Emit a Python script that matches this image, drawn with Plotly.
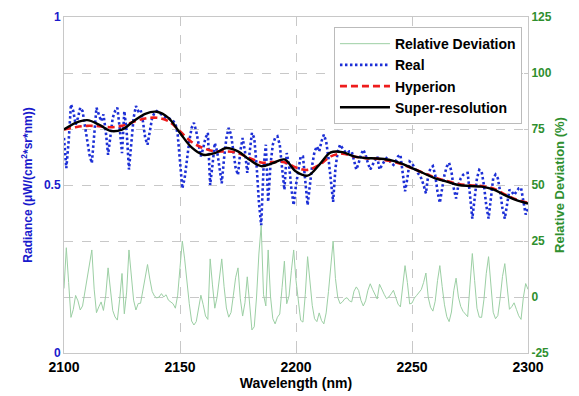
import plotly.graph_objects as go

# Wavelength grid (nm) for measured / deviation series
wl = list(range(2100, 2301))

real = [0.64, 0.55, 0.63, 0.74, 0.72, 0.68, 0.70, 0.73, 0.72, 0.68,
        0.63, 0.59, 0.565, 0.66, 0.73, 0.71, 0.69, 0.71, 0.66, 0.59,
        0.64, 0.70, 0.72, 0.73, 0.67, 0.595, 0.72, 0.66, 0.546, 0.62,
        0.70, 0.735, 0.72, 0.725, 0.69, 0.64, 0.62, 0.66, 0.70, 0.715,
        0.72, 0.715, 0.71, 0.705, 0.70, 0.70, 0.695, 0.69, 0.685, 0.65,
        0.56, 0.49, 0.52, 0.58, 0.63, 0.67, 0.685, 0.66, 0.62, 0.585,
        0.61, 0.64, 0.655, 0.50, 0.56, 0.625, 0.60, 0.55, 0.505, 0.58,
        0.64, 0.67, 0.65, 0.60, 0.55, 0.53, 0.60, 0.64, 0.60, 0.536,
        0.60, 0.655, 0.64, 0.56, 0.45, 0.38, 0.55, 0.62, 0.45, 0.56,
        0.62, 0.64, 0.645, 0.62, 0.55, 0.486, 0.595, 0.56, 0.49, 0.44,
        0.50, 0.55, 0.585, 0.585, 0.52, 0.44, 0.50, 0.56, 0.60, 0.615,
        0.60, 0.63, 0.65, 0.63, 0.58, 0.52, 0.45, 0.55, 0.60, 0.62,
        0.61, 0.60, 0.595, 0.60, 0.60, 0.57, 0.546, 0.565, 0.59, 0.605,
        0.59, 0.565, 0.546, 0.56, 0.575, 0.585, 0.546, 0.56, 0.57, 0.58,
        0.575, 0.565, 0.56, 0.57, 0.585, 0.59, 0.54, 0.481, 0.52, 0.57,
        0.565, 0.55, 0.54, 0.531, 0.52, 0.50, 0.475, 0.53, 0.55, 0.556,
        0.53, 0.48, 0.447, 0.49, 0.53, 0.555, 0.566, 0.54, 0.49, 0.46,
        0.50, 0.52, 0.53, 0.535, 0.536, 0.47, 0.40, 0.46, 0.52, 0.545,
        0.54, 0.50, 0.44, 0.40, 0.47, 0.52, 0.531, 0.52, 0.48, 0.43,
        0.40, 0.45, 0.486, 0.48, 0.47, 0.48, 0.49, 0.492, 0.45, 0.412,
        0.43]

rel_dev = [3.8, 22, 6.5, -9.1, -5.6, 0.7, -1.7, -5.8, -4, 1.9,
           9, 14.5, 21, 3.5, -7, -4.4, -2.2, -6, 0.8, 13,
           3.2, -6, -8.9, -10.3, -1, 10.5, -7.5, 2.2, 21, 9.5,
           -1.4, -5.8, -2.9, -2.8, 2.8, 10, 14.5, 8, 2.5, 0.4,
           -0.4, 0, 1.5, 0, 1, -1.4, -2.2, -3, -5, 0.8,
           13.2, 25, 17, 6, -3, -10.7, -12.5, -11, -4.7, 0.8,
           -3.4, -8.5, -10, 17, 5.4, -5, 0, 8.8, 17, 4.6,
           -4.9, -9, -6.9, 0.8, 8.8, 13, -0.8, -8.5, -2.6, 9,
           -4.3, -14.7, -13.3, 0, 19.2, 32, 1, -4, 21, 0.4,
           -9.7, -12, -9, -7.6, 4.3, 16, -3, 0.5, 11.7, 21,
           7.4, -2.8, -10.4, -11.2, 1.1, 18, 6.2, -3.7, -9.7, -11,
           -7.1, -10.5, -12, -7.1, 2.4, 12.9, 25, 8.3, -0.2, -3,
           -2.2, -0.8, -0.3, -1.7, -2.2, 2.6, 4.5, 2.9, -1.5, -4,
           -1.7, 3, 5.9, 3.4, 0.9, -0.9, 5.7, 3.1, 1.2, -0.7,
           0, 1.4, 3, -0.2, -3.2, -4.4, 3.9, 14, 6.5, -3.1,
           -2.7, -0.5, 0.7, 1.8, 3.3, 6.5, 10.7, -0.2, -4.6, -6.3,
           -1.9, 7.3, 14, 4.7, -3.5, -8.8, -11, -6.7, 2.8, 8.4,
           0, -4.2, -6.4, -7.6, -8.8, 5.4, 19.4, 7.3, -5, -9,
           -9.1, -1.2, 10.4, 18, 3.5, -6.8, -9.7, -8.3, -0.6, 9.1,
           14.9, 3.4, -5.5, -4.3, -2.6, -5.5, -8.4, -10, -0.2, 6,
           3.4]

# Smooth spectra (5 nm spacing)
wl_smooth = list(range(2100, 2301, 5))
hyperion = [0.665, 0.672, 0.676, 0.675, 0.672, 0.676, 0.688, 0.698, 0.700, 0.690,
            0.660, 0.628, 0.610, 0.600, 0.600, 0.595, 0.580, 0.567, 0.568, 0.568,
            0.552, 0.545, 0.560, 0.585, 0.593, 0.585, 0.580, 0.578, 0.572, 0.563,
            0.550, 0.536, 0.522, 0.512, 0.503, 0.499, 0.497, 0.490, 0.472, 0.457,
            0.447]
super_res = [0.665, 0.685, 0.693, 0.680, 0.661, 0.665, 0.690, 0.712, 0.718, 0.700,
             0.655, 0.612, 0.590, 0.595, 0.610, 0.600, 0.575, 0.556, 0.565, 0.576,
             0.540, 0.528, 0.560, 0.597, 0.598, 0.585, 0.580, 0.579, 0.575, 0.565,
             0.550, 0.535, 0.520, 0.510, 0.500, 0.497, 0.495, 0.487, 0.470, 0.455,
             0.445]

x_ticks = [2100, 2150, 2200, 2250, 2300]
left_ticks = [0, 0.5, 1]
right_ticks = [-25, 0, 25, 50, 75, 100, 125]

FONT = "Arial, Liberation Sans, sans-serif"
BLUE = "#1a1acc"
GREEN = "#2f8f2f"

fig = go.Figure()
fig.add_trace(go.Scatter(x=wl, y=rel_dev, name="Relative Deviation", yaxis="y2",
                         mode="lines", line=dict(color="#9ccfa4", width=1)))
fig.add_trace(go.Scatter(x=wl, y=real, name="Real", mode="lines",
                         line=dict(color="#1c2fd6", width=2.6, dash="2.5px,2.5px")))
fig.add_trace(go.Scatter(x=wl_smooth, y=hyperion, name="Hyperion", mode="lines",
                         line=dict(color="#ee1c1c", width=2.6, dash="7px,4px", shape="spline")))
fig.add_trace(go.Scatter(x=wl_smooth, y=super_res, name="Super-resolution", mode="lines",
                         line=dict(color="#000000", width=2.4, shape="spline")))

fig.update_layout(
    width=579, height=396,
    margin=dict(l=64, r=51, t=17, b=43, autoexpand=False),
    paper_bgcolor="white", plot_bgcolor="white",
    font=dict(family=FONT, size=12, color="black"),
    showlegend=True,
    legend=dict(x=0.987, y=0.97, xanchor="right", yanchor="top",
                bgcolor="white", bordercolor="#bbbbbb", borderwidth=1,
                font=dict(family=FONT, size=14, color="black", weight="bold"),
                tracegroupgap=0, itemwidth=50),
    xaxis=dict(range=[2100, 2300], tickvals=x_ticks,
               ticktext=[f"<b>{t}</b>" for t in x_ticks],
               tickfont=dict(size=14, color="black"),
               showgrid=True, gridcolor="#c8c8c8", griddash="dash", gridwidth=1,
               showline=True, linecolor="#c8c8c8", mirror=True,
               ticks="inside", ticklen=4, tickcolor="#c8c8c8",
               zeroline=False, automargin=False, ticklabelstandoff=1,
               title=dict(text="<b>Wavelength (nm)</b>", font=dict(size=14, color="black"),
                          standoff=0)),
    yaxis=dict(range=[0, 1], tickvals=left_ticks,
               ticktext=[f"<b>{t:g}</b>" for t in left_ticks],
               tickfont=dict(size=12, color=BLUE),
               showgrid=False, zeroline=False, automargin=False,
               showline=True, linecolor="#c8c8c8",
               ticks="inside", ticklen=4, tickcolor="#c8c8c8",
               title=dict(text="<b>Radiance (μW/(cm<sup>2</sup>*sr*nm))</b>",
                          font=dict(size=12, color=BLUE), standoff=8)),
    yaxis2=dict(range=[-25, 125], tickvals=right_ticks,
                ticktext=[f"<b>{t}</b>" for t in right_ticks],
                tickfont=dict(size=12, color=GREEN),
                overlaying="y", side="right", automargin=False,
                showgrid=True, gridcolor="#c8c8c8", griddash="dash", gridwidth=1,
                zeroline=False, showline=True, linecolor="#c8c8c8",
                ticks="inside", ticklen=4, tickcolor="#c8c8c8",
                title=dict(text="<b>Relative Deviation (%)</b>",
                           font=dict(size=13, color=GREEN), standoff=4)),
)

fig.write_html("out.html", config={"displayModeBar": False},
               post_script="document.body.style.margin='0px';")
